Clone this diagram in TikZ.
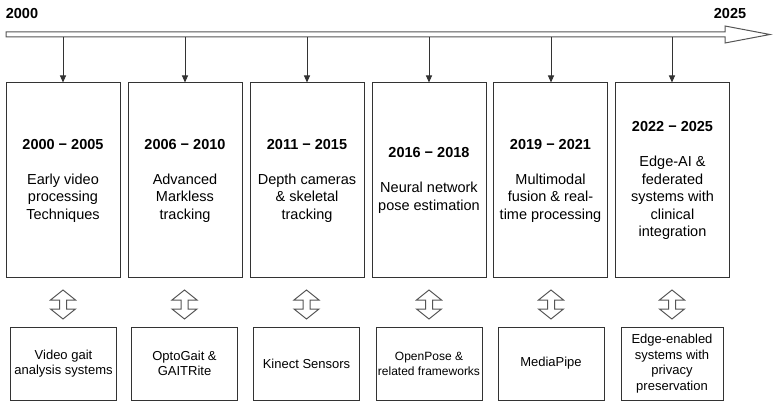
\documentclass[tikz,border=0pt]{standalone}
\usepackage{fontspec}
\setmainfont{Liberation Sans}
\usetikzlibrary{arrows.meta}
\definecolor{edge}{HTML}{333333}
\definecolor{soft}{HTML}{555555}
\tikzset{
  period/.style={draw=edge, line width=1pt, minimum width=114pt, minimum height=195pt, align=center, inner sep=0pt, font=\fontsize{14.5}{17.5}\selectfont},
  tool/.style={draw=edge, line width=1pt, minimum width=106pt, minimum height=73pt, align=center, inner sep=0pt, font=\fontsize{13}{15.5}\selectfont},
  tick/.style={draw=edge, line width=1pt, -{Triangle[length=7pt,width=6pt]}},
  hollow/.style={draw=soft, line width=1pt, fill=white, line join=miter},
  yearlabel/.style={font=\bfseries\fontsize{14.5}{17}\selectfont, inner sep=0pt}
}
\newcommand{\dblarrow}[1]{%
  \draw[hollow] (#1,290) -- (#1+12.5,300) -- (#1+3.5,300) -- (#1+3.5,309) -- (#1+12.5,309) -- (#1,319) -- (#1-12.5,309) -- (#1-3.5,309) -- (#1-3.5,300) -- (#1-12.5,300) -- cycle;}
\begin{document}
\begin{tikzpicture}[x=1pt,y=-1pt]
\useasboundingbox (0,0) rectangle (774,406);
% timeline
\draw[hollow] (6,32) -- (725,32) -- (725,26) -- (770,34.5) -- (725,43) -- (725,37) -- (6,37) -- cycle;
\node[yearlabel] (y0) at (22,14) {2000};
\node[yearlabel] (y1) at (730,14) {2025};
% period boxes
\node[period] (p1) at (63,180.5) {\textbf{2000 − 2005}\\[17.5pt]Early video\\processing\\Techniques};
\node[period] (p2) at (185,180.5) {\textbf{2006 − 2010}\\[17.5pt]Advanced\\Markless\\tracking};
\node[period] (p3) at (307,180.5) {\textbf{2011 − 2015}\\[17.5pt]Depth cameras\\\&~skeletal\\tracking};
\node[period] (p4) at (429,180.5) {\textbf{2016 − 2018}\\[17.5pt]Neural network\\pose estimation};
\node[period] (p5) at (550.5,180.5) {\textbf{2019 − 2021}\\[17.5pt]Multimodal\\fusion \& real-\\time processing};
\node[period] (p6) at (672.5,180.5) {\textbf{2022 − 2025}\\[17.5pt]Edge-AI \&\\federated\\systems with\\clinical\\integration};
% ticks
\foreach \i/\x in {1/63,2/185,3/307,4/429,5/551,6/672}{
  \coordinate (t\i) at (\x,37);
  \draw[tick] (t\i) -- (p\i.north -| t\i);
}
% tool boxes
\node[tool] (b1) at (63.5,363.5) {Video gait\\analysis systems};
\node[tool] (b2) at (184.5,363.5) {OptoGait \&\\GAITRite};
\node[tool] (b3) at (306.5,363.5) {Kinect Sensors};
\node[tool, font=\fontsize{12}{15}\selectfont] (b4) at (429,363.5) {OpenPose \&\\related frameworks};
\node[tool] (b5) at (551,363.5) {MediaPipe};
\node[tool, minimum width=102pt] (b6) at (672,363.5) {Edge-enabled\\systems with\\privacy\\preservation};
% double arrows
\foreach \x in {63,184.5,306.5,429,551,672}{\dblarrow{\x}}
\end{tikzpicture}
\end{document}
